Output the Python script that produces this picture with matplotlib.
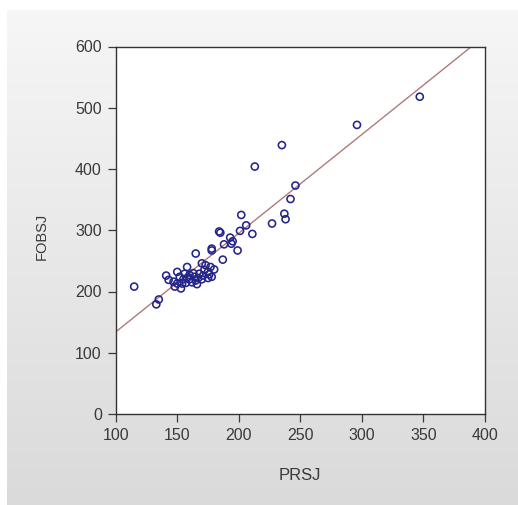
import numpy as np
import matplotlib
matplotlib.use("Agg")
import matplotlib.pyplot as plt

# ---- data ----
prsj = [347, 296, 235, 213, 246, 242, 237, 238, 227, 202, 206, 211, 201,
        184, 185, 193, 195, 188, 199, 194, 178, 178, 165, 187, 115, 133, 135,
        141, 143, 148, 153, 150, 147, 154, 158, 150, 152, 156, 160, 164, 168,
        170, 173, 177, 175, 178, 160, 162, 165, 158, 167, 170, 155, 163, 172,
        157, 166, 171, 176, 180, 175]
fobsj = [518, 472, 439, 404, 373, 351, 327, 318, 311, 325, 308, 294, 299,
         298, 296, 288, 282, 277, 267, 278, 270, 267, 262, 252, 208, 179, 187,
         226, 219, 208, 205, 213, 216, 213, 240, 232, 224, 229, 227, 224, 229,
         246, 243, 240, 232, 224, 220, 215, 218, 222, 222, 220, 220, 230, 235,
         214, 212, 226, 228, 236, 222]
fit_intercept = -27.2
fit_slope = 1.612

x_ticks = [100, 150, 200, 250, 300, 350, 400]
y_ticks = [0, 100, 200, 300, 400, 500, 600]

plt.rcParams['font.family'] = ['Liberation Sans', 'DejaVu Sans']

W, H = 518, 505
fig = plt.figure(figsize=(W / 100, H / 100), dpi=100)
fig.patch.set_facecolor('white')

# gradient panel background
bg = fig.add_axes([7 / W, 0, 1 - 7 / W, 1 - 10 / H], zorder=-5)
grad = np.linspace(0.965, 0.855, 256).reshape(-1, 1)
bg.imshow(np.dstack([grad, grad, grad]), aspect='auto', extent=[0, 1, 0, 1])
bg.axis('off')

ax = fig.add_axes([115.7 / W, 1 - 414 / H, (485 - 115.7) / W, (414 - 46.5) / H])
ax.set_facecolor('white')

ax.scatter(prsj, fobsj, s=26, facecolors='none', edgecolors='#24248a',
           linewidths=1.15, zorder=3)

xs = np.array([100, 400])
ax.plot(xs, fit_intercept + fit_slope * xs, color='#b07a7a', lw=1.0, zorder=2)

ax.set_xlim(100, 400)
ax.set_ylim(0, 600)
ax.set_xticks(x_ticks)
ax.set_yticks(y_ticks)
ax.tick_params(direction='out', length=5.5, width=0.9, colors='#3a3a3a',
               labelsize=11.5)
ax.tick_params(axis='y', pad=4.5)
ax.tick_params(axis='x', pad=4.5)
for sp in ax.spines.values():
    sp.set_color('#333333')
    sp.set_linewidth(1.0)

fig.text(300 / W, 1 - 476 / H, 'PRSJ', fontsize=12, color='#3a3a3a',
         ha='center', va='center')
fig.text(42 / W, 1 - 236 / H, 'FOBSJ', fontsize=10.5, color='#3a3a3a',
         ha='center', va='center', rotation=90)

fig.savefig('out.png', dpi=100)
